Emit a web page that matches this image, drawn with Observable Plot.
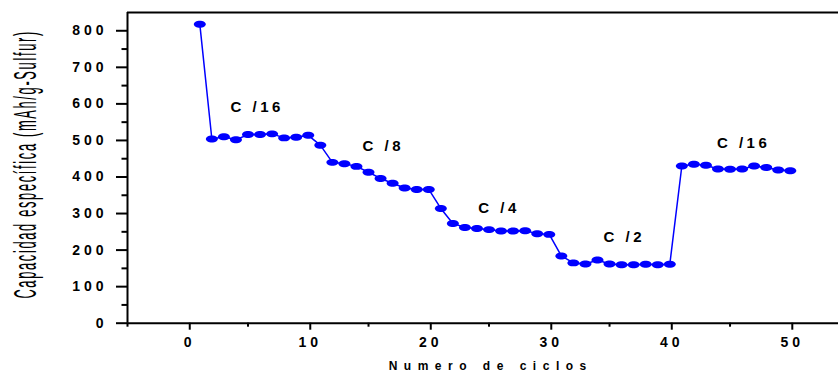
<!DOCTYPE html>
<html>
<head>
<meta charset="utf-8">
<script src="https://cdn.jsdelivr.net/npm/d3@7"></script>
<script src="https://cdn.jsdelivr.net/npm/@observablehq/plot@0.6"></script>
<style>
  html, body { margin: 0; padding: 0; background: #fff; }
</style>
</head>
<body>
<div id="chart"></div>
<script>
const cycles = [1,2,3,4,5,6,7,8,9,10,11,12,13,14,15,16,17,18,19,20,21,22,23,24,25,26,27,28,29,30,31,32,33,34,35,36,37,38,39,40,41,42,43,44,45,46,47,48,49,50];
const capacity = [818,504,510,502,516,516,518,507,509,514,487,440,436,429,413,396,383,370,366,366,314,273,262,259,256,252,252,253,245,243,184,165,162,173,162,160,160,161,160,161,430,435,432,422,421,422,430,426,419,417];
const rateLabels = ["C /16", "C /8", "C /4", "C /2", "C /16"];
const rateX = [5.64, 16.1, 25.7, 36.1, 46.0];
const rateY = [590, 484, 315, 235, 492];
const xTicks = [0, 10, 20, 30, 40, 50];
const xMinor = [-5, 5, 15, 25, 35, 45];
const yTicks = [0, 100, 200, 300, 400, 500, 600, 700, 800];
const yMinor = [50, 150, 250, 350, 450, 550, 650, 750];
const xTitle = "Numero de ciclos";
const yTitle = "Capacidad específica (mAh/g-Sulfur)";

const data = cycles.map((c, i) => ({cycle: c, cap: capacity[i]}));
const labels = rateLabels.map((t, i) => ({t, x: rateX[i], y: rateY[i]}));

const ellipse = {
  draw(ctx, size) {
    const r = Math.sqrt(size / Math.PI);
    const rx = r, ry = r * 0.58, k = 0.5523;
    ctx.moveTo(rx, 0);
    ctx.bezierCurveTo(rx, ry * k, rx * k, ry, 0, ry);
    ctx.bezierCurveTo(-rx * k, ry, -rx, ry * k, -rx, 0);
    ctx.bezierCurveTo(-rx, -ry * k, -rx * k, -ry, 0, -ry);
    ctx.bezierCurveTo(rx * k, -ry, rx, -ry * k, rx, 0);
    ctx.closePath();
  }
};

const chart = Plot.plot({
  width: 838,
  height: 373,
  marginTop: 12,
  marginBottom: 50.3,
  marginLeft: 127,
  marginRight: 0,
  x: {domain: [-5, 54]},
  y: {domain: [0, 850]},
  style: {fontFamily: "'Liberation Sans', Arial, sans-serif", background: "#fff", color: "#000"},
  marks: [
    Plot.axisY({ticks: yMinor, tickSize: 5.5, strokeWidth: 2, tickFormat: () => ""}),
    Plot.axisY({ticks: yTicks, tickSize: 11, tickPadding: 9, strokeWidth: 2, fontSize: 14, fontWeight: "bold", label: null}),
    Plot.axisX({ticks: xMinor, tickSize: 4, strokeWidth: 2, tickFormat: () => ""}),
    Plot.axisX({ticks: xTicks, tickSize: 7, tickPadding: 7, strokeWidth: 2, fontSize: 14, fontWeight: "bold", dx: 2, label: null}),
    Plot.ruleX([-5], {strokeWidth: 2}),
    Plot.ruleY([0], {strokeWidth: 2}),
    Plot.ruleY([850], {strokeWidth: 2}),
    Plot.line(data, {x: "cycle", y: "cap", stroke: "#0000ff", strokeWidth: 1.5}),
    Plot.dot(data, {x: "cycle", y: "cap", r: 6, symbol: ellipse, fill: "#0000ff", stroke: "none"}),
    Plot.text(labels, {x: "x", y: "y", text: "t", fontSize: 15, fontWeight: "bold", dx: 1.5, lineAnchor: "middle"}),
    Plot.text([xTitle], {frameAnchor: "bottom", text: d => d, dx: 7.7, dy: 43, lineAnchor: "middle", fontSize: 12, fontWeight: "bold"}),
    Plot.text([yTitle], {frameAnchor: "left", textAnchor: "middle", text: d => d, dx: -101, dy: -3.5, rotate: -90, lineAnchor: "middle", fontSize: 31})
  ]
});

document.getElementById("chart").appendChild(chart);

const tickStrings = new Set([...yTicks, ...xTicks].map(String));
d3.select(chart).selectAll("text").each(function() {
  const s = this.textContent;
  const el = d3.select(this);
  if (tickStrings.has(s)) el.style("letter-spacing", "4px");
  else if (rateLabels.includes(s)) el.style("letter-spacing", "3.5px");
  else if (s === xTitle) el.style("letter-spacing", "6.5px");
  else if (s === yTitle) {
    el.style("letter-spacing", "4px");
    const len = this.getComputedTextLength() - 4;
    const t = el.attr("transform") || "";
    el.attr("transform", `${t} scale(${267 / len},1)`);
  }
});
</script>
</body>
</html>
